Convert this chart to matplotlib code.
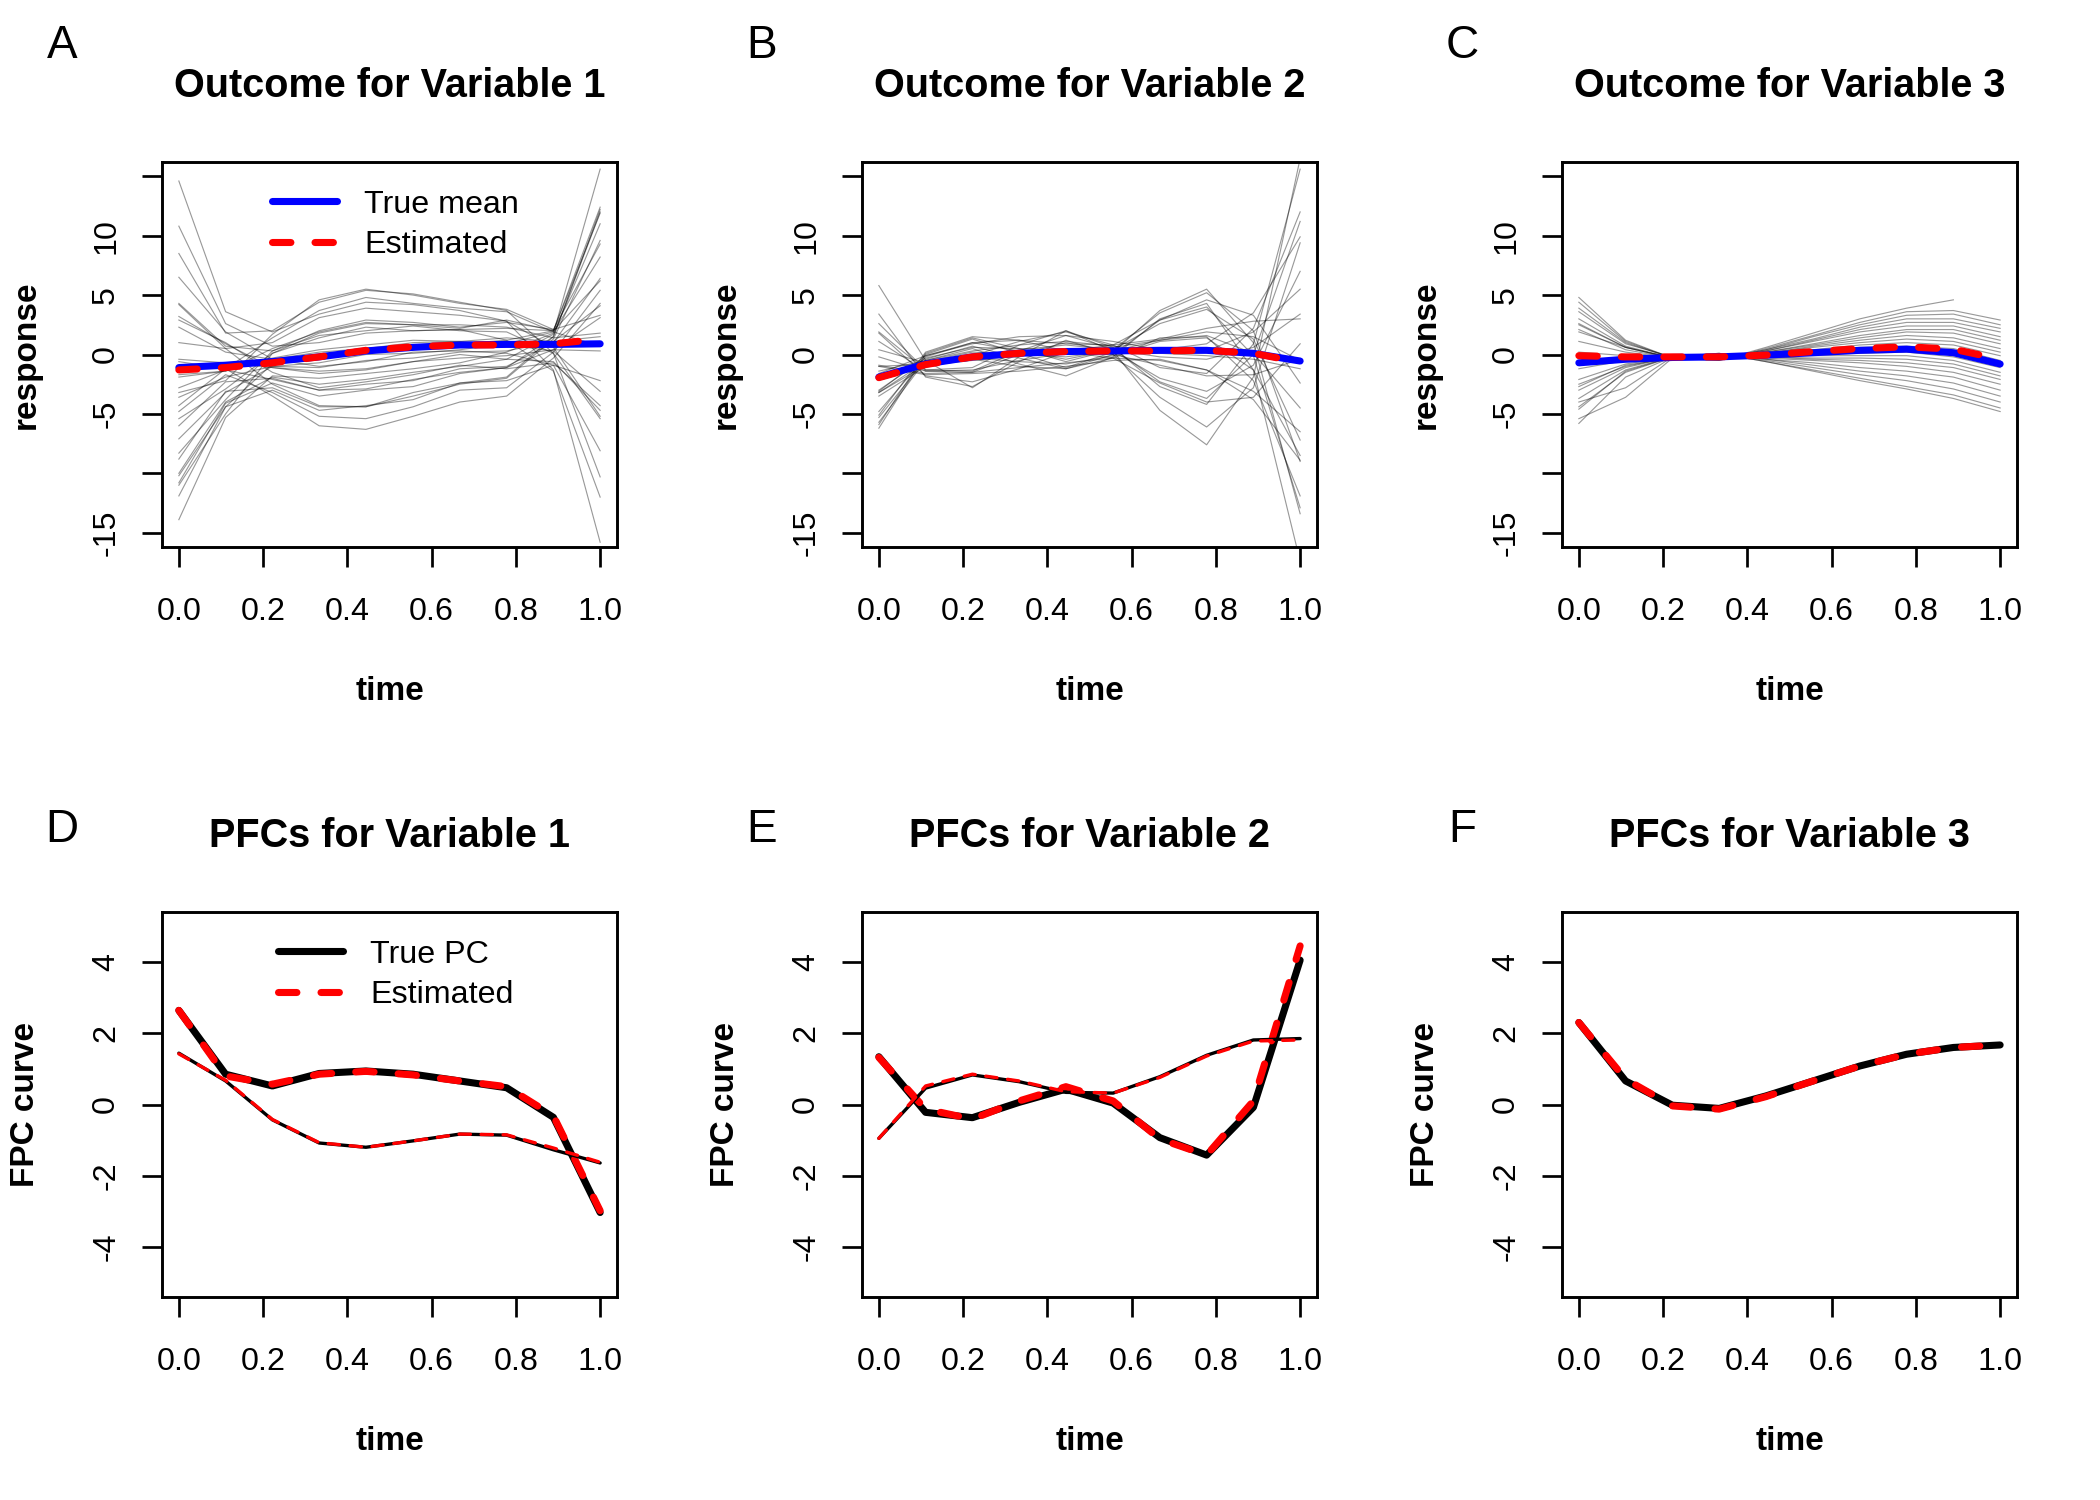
import numpy as np
import matplotlib.pyplot as plt
from matplotlib.lines import Line2D

plt.rcParams['font.family'] = ['Liberation Sans', 'DejaVu Sans']
plt.rcParams['axes.unicode_minus'] = False

# 10 observation times
time = [0.0, 0.111, 0.222, 0.333, 0.444, 0.556, 0.667, 0.778, 0.889, 1.0]

# ---- top row: observed curves + means ----
curves_1 = [
    [14.6, 3.6, 1.9, 3.4, 4.4, 4.2, 3.7, 2.8, -1.3, -15.8],
    [10.8, 2.6, 0.7, 1.0, 1.8, 2.0, 2.1, 1.2, -1.4, -12.0],
    [4.2, 0.5, 1.0, 3.1, 3.9, 3.6, 3.3, 2.8, 0.6, -5.2],
    [6.5, 1.9, -0.4, -1.0, -0.6, 0.2, 0.3, 0.1, -0.9, -8.1],
    [-0.6, -1.2, 1.4, 3.7, 4.8, 4.3, 3.9, 3.6, 1.9, 0.7],
    [2.3, 0.2, -0.4, 0.2, 0.5, 1.0, 1.1, 0.8, 0.3, -3.1],
    [-1.9, -1.4, 0.5, 1.9, 2.7, 2.5, 2.5, 2.3, 1.4, 1.8],
    [2.9, 1.0, -1.5, -2.8, -2.3, -1.7, -0.9, -1.2, -0.7, -4.3],
    [-1.7, -1.4, -0.3, 0.4, 0.8, 1.2, 1.1, 1.4, 1.1, 1.5],
    [-0.4, -0.7, -1.1, -1.6, -1.3, -0.6, -0.3, -0.1, 0.4, 0.3],
    [-5.4, -2.9, 0.1, 1.4, 2.3, 2.0, 2.1, 2.2, 2.0, 6.2],
    [-3.6, -1.9, -1.0, -1.1, -0.5, -0.3, 0.2, 0.3, 1.1, 4.1],
    [-8.3, -3.8, 0.3, 2.0, 2.9, 2.7, 2.3, 2.7, 2.1, 9.3],
    [-2.8, -1.3, -2.1, -3.0, -2.9, -2.1, -1.5, -1.1, 0.4, 3.1],
    [-7.1, -3.2, -1.0, -0.7, 0.0, 0.1, 0.4, 0.9, 1.9, 8.2],
    [-6.0, -2.3, -2.0, -3.0, -2.5, -2.2, -1.2, -1.0, 1.0, 6.4],
    [-10.2, -4.4, -0.8, -0.2, 0.5, 0.4, 0.9, 1.2, 2.0, 11.9],
    [-4.8, -1.7, -3.2, -5.2, -5.4, -4.4, -3.0, -2.8, 0.2, 5.4],
    [-10.0, -4.0, -1.9, -2.5, -2.1, -1.5, -1.0, -0.4, 1.7, 11.0],
    [-8.8, -3.1, -2.8, -4.4, -4.4, -3.5, -2.5, -2.0, 1.3, 9.6],
    [-13.9, -5.3, -1.8, -2.0, -1.6, -1.2, -0.7, 0.2, 1.8, 15.6],
    [-11.9, -4.4, -3.0, -4.7, -4.3, -3.8, -2.4, -1.9, 1.5, 12.2],
    [4.3, 0.7, 0.3, 1.6, 2.0, 2.4, 2.0, 1.9, 0.1, -5.4],
    [3.2, 0.9, -1.1, -1.4, -1.2, -0.6, 0.0, -0.4, -0.6, -4.7],
    [1.0, 0.5, -2.5, -4.3, -4.4, -3.2, -2.4, -2.2, -0.9, -2.2],
    [-11.0, -5.0, 0.1, 1.8, 2.6, 2.5, 2.2, 2.9, 2.0, 12.4],
    [8.5, 1.8, 2.0, 4.4, 5.4, 5.1, 4.4, 3.7, 0.1, -10.3],
    [-10.8, -4.1, -2.4, -3.5, -3.0, -2.7, -1.6, -1.1, 1.5, 12.0],
    [-3.2, -2.2, 1.7, 4.6, 5.5, 5.0, 4.3, 3.8, 2.1, 3.3],
    [-4.3, -1.2, -3.5, -6.0, -6.3, -5.2, -4.0, -3.5, -0.3, 4.3],
]
curves_2 = [
    [2.6, -1.3, -1.1, 0.8, 2.0, 0.6, -2.7, -4.2, 0.9, 15.6],
    [3.4, -1.9, -2.7, -0.6, 1.2, 0.0, -3.6, -6.1, -2.8, 9.4],
    [0.4, -0.7, -0.1, 1.1, 1.9, 0.8, -1.1, -1.6, 2.2, 12.0],
    [1.1, -1.4, -1.5, 0.0, 1.0, 0.3, -2.0, -3.1, -0.9, 7.0],
    [-1.6, -0.1, 0.9, 1.5, 1.6, 1.1, 0.4, 0.9, 3.5, 9.9],
    [1.8, -1.8, -2.3, -1.2, 0.2, -0.3, -2.4, -4.0, -3.6, 0.9],
    [-1.0, -0.8, -0.3, 0.4, 0.8, 0.4, -0.2, -0.4, 0.6, 3.4],
    [-0.2, -1.4, -1.3, -0.5, 0.1, 0.0, -0.9, -1.8, -1.7, -0.4],
    [-3.1, -0.1, 1.0, 1.2, 0.9, 0.8, 1.3, 2.2, 2.8, 3.0],
    [-1.7, -0.9, -0.5, -0.1, 0.2, 0.2, 0.1, -0.1, -0.4, -1.2],
    [-3.0, -0.3, 0.6, 0.5, 0.4, 0.6, 1.2, 1.9, 1.5, -0.5],
    [-0.9, -1.6, -1.5, -1.1, -0.7, -0.3, -0.5, -1.3, -3.1, -6.5],
    [-3.2, -0.6, 0.2, 0.0, -0.2, 0.3, 1.2, 1.6, 0.1, -4.5],
    [-5.1, 0.2, 1.5, 1.2, 0.3, 0.8, 2.9, 4.6, 3.3, -2.4],
    [-3.2, -0.9, -0.3, -0.6, -0.8, -0.1, 1.1, 1.4, -1.3, -8.5],
    [-4.8, -0.2, 1.0, 0.3, -0.4, 0.4, 2.6, 3.8, 1.3, -7.2],
    [-3.5, -1.0, -0.4, -1.0, -1.2, -0.3, 1.4, 1.5, -2.2, -11.9],
    [-5.9, 0.1, 1.4, 0.5, -0.6, 0.4, 3.5, 5.2, 2.0, -9.0],
    [-5.3, -0.4, 0.7, -0.3, -1.2, 0.0, 2.9, 4.0, -0.1, -12.9],
    [-6.2, 0.0, 1.3, 0.1, -1.1, 0.2, 3.7, 5.5, 1.0, -13.4],
    [-5.7, -0.5, 0.5, -0.8, -1.8, -0.2, 3.0, 4.3, -1.3, -17.4],
    [-1.4, -0.5, 0.3, 0.8, 1.1, 0.7, 0.2, 0.3, 1.9, 5.5],
    [-1.0, -1.7, -1.6, -1.4, -1.0, -0.5, -0.4, -1.3, -3.8, -8.9],
    [1.9, -1.3, -1.4, 0.3, 1.6, 0.5, -2.3, -3.7, 0.0, 11.2],
    [5.8, -0.5, -2.8, -0.2, 2.0, 0.3, -4.7, -7.6, -1.9, 16.5],
]
curves_3 = [
    [4.8, 1.2, -0.3, -0.5, 0.6, 1.8, 3.0, 3.9, 4.6, np.nan],
    [4.4, 1.1, -0.3, -0.5, 0.5, 1.6, 2.7, 3.6, 3.7, 2.9],
    [3.9, 1.0, -0.3, -0.4, 0.4, 1.5, 2.5, 3.3, 3.4, 2.5],
    [1.9, 0.6, -0.3, -0.4, 0.4, 1.3, 2.3, 3.0, 3.0, 2.2],
    [3.0, 0.7, -0.3, -0.4, 0.3, 1.2, 2.1, 2.7, 2.7, 1.9],
    [2.5, 0.6, -0.3, -0.4, 0.3, 1.1, 1.9, 2.4, 2.4, 1.5],
    [2.1, 0.4, -0.3, -0.3, 0.2, 0.9, 1.6, 2.1, 2.1, 1.2],
    [3.6, 0.9, -0.2, -0.3, 0.2, 0.8, 1.4, 1.9, 1.8, 0.9],
    [1.1, 0.2, -0.3, -0.3, 0.1, 0.7, 1.2, 1.6, 1.4, 0.5],
    [-2.7, -0.9, -0.3, -0.3, 0.1, 0.6, 1.0, 1.3, 1.1, 0.2],
    [0.2, -0.1, -0.3, -0.3, 0.0, 0.4, 0.8, 1.0, 0.8, -0.1],
    [2.6, 0.6, -0.3, -0.2, 0.0, 0.3, 0.6, 0.7, 0.5, -0.5],
    [-0.7, -0.4, -0.3, -0.2, -0.1, 0.2, 0.4, 0.5, 0.2, -0.8],
    [-1.2, -0.5, -0.2, -0.2, -0.1, 0.0, 0.1, 0.2, -0.2, -1.1],
    [-4.6, -1.4, -0.2, -0.2, -0.1, -0.1, -0.1, -0.1, -0.5, -1.5],
    [-2.1, -0.8, -0.2, -0.1, -0.2, -0.3, -0.3, -0.4, -0.8, -1.8],
    [-2.5, -1.0, -0.2, -0.1, -0.2, -0.4, -0.5, -0.7, -1.1, -2.1],
    [-3.0, -1.1, -0.2, -0.1, -0.3, -0.5, -0.7, -1.0, -1.5, -2.5],
    [-3.7, -1.3, -0.2, 0.0, -0.4, -0.7, -1.1, -1.4, -1.9, -3.0],
    [-4.4, -1.5, -0.2, 0.0, -0.4, -0.9, -1.4, -1.8, -2.4, -3.5],
    [-5.4, -3.6, -0.3, 0.0, -0.5, -1.1, -1.7, -2.2, -2.9, -4.0],
    [-5.8, -1.9, -0.2, 0.1, -0.6, -1.3, -2.0, -2.7, -3.4, -4.5],
    [-4.0, -2.8, -0.2, 0.1, -0.6, -1.4, -2.2, -2.9, -3.7, -4.8],
]

mean_true_1 = [-1.1, -0.9, -0.6, -0.2, 0.3, 0.6, 0.8, 0.85, 0.85, 0.9]
mean_est_1 = [-1.3, -1.1, -0.7, -0.2, 0.35, 0.65, 0.8, 0.8, 0.9, 1.3]
mean_true_2 = [-1.9, -0.8, -0.2, 0.1, 0.25, 0.3, 0.35, 0.35, 0.1, -0.55]
mean_est_2 = [-1.95, -0.85, -0.2, 0.1, 0.25, 0.3, 0.3, 0.35, 0.1, -0.65]
mean_true_3 = [-0.7, -0.4, -0.25, -0.2, -0.05, 0.15, 0.35, 0.45, 0.15, -0.8]
mean_est_3 = [-0.1, -0.2, -0.2, -0.2, -0.05, 0.25, 0.5, 0.65, 0.45, -0.4]

# ---- bottom row: principal functional components ----
pc_true_1 = [[2.64, 0.85, 0.52, 0.87, 0.94, 0.85, 0.66, 0.47, -0.36, -3.03],
             [1.44, 0.66, -0.43, -1.08, -1.2, -1.02, -0.83, -0.86, -1.27, -1.64]]
pc_est_1 = [[2.64, 0.8, 0.57, 0.85, 0.93, 0.83, 0.66, 0.5, -0.32, -2.98],
            [1.42, 0.68, -0.42, -1.07, -1.2, -1.02, -0.83, -0.85, -1.22, -1.62]]
pc_true_2 = [[1.34, -0.22, -0.37, 0.06, 0.43, 0.04, -0.93, -1.42, -0.08, 4.05],
             [-0.95, 0.46, 0.83, 0.64, 0.34, 0.32, 0.78, 1.38, 1.81, 1.85]]
pc_est_2 = [[1.32, -0.13, -0.41, 0.1, 0.5, 0.1, -0.97, -1.42, 0.1, 4.45],
            [-0.95, 0.52, 0.85, 0.66, 0.36, 0.32, 0.76, 1.36, 1.78, 1.81]]
pc_true_3 = [[2.3, 0.66, -0.02, -0.11, 0.24, 0.66, 1.08, 1.41, 1.6, 1.67]]
pc_est_3 = [[2.3, 0.71, -0.04, -0.13, 0.22, 0.66, 1.08, 1.41, 1.6, 1.67]]

letters = ['A', 'B', 'C', 'D', 'E', 'F']
top_titles = ['Outcome for Variable 1', 'Outcome for Variable 2', 'Outcome for Variable 3']
bot_titles = ['PFCs for Variable 1', 'PFCs for Variable 2', 'PFCs for Variable 3']

fig = plt.figure(figsize=(14, 10), dpi=150)

W, H = 2100.0, 1500.0
lefts = [162, 862, 1562]
box_w, box_h = 455, 385
box_tops = [162, 912]


def style(ax, yticks, ylabels, ylim, ylabel, title):
    ax.set_xlim(-0.04, 1.04)
    ax.set_ylim(ylim)
    ax.set_xticks([0, 0.2, 0.4, 0.6, 0.8, 1.0])
    ax.set_xticklabels(['0.0', '0.2', '0.4', '0.6', '0.8', '1.0'])
    ax.set_yticks(yticks)
    ax.set_yticklabels(ylabels, rotation=90, va='center')
    ax.tick_params(direction='out', length=9.6, width=1.3, labelsize=15.5)
    ax.tick_params(axis='x', pad=14.5)
    ax.tick_params(axis='y', pad=10)
    for s in ax.spines.values():
        s.set_linewidth(1.4)
    ax.set_xlabel('time', fontsize=16, fontweight='bold')
    ax.xaxis.set_label_coords(0.5, -145 / box_h)
    ax.xaxis.label.set_va('center')
    ax.set_ylabel(ylabel, fontsize=16, fontweight='bold')
    ax.yaxis.set_label_coords(-136 / box_w, 0.5)
    ax.yaxis.label.set_va('center')
    ax.set_title(title, fontsize=19, fontweight='bold', y=1 + 76 / box_h, va='center', pad=0)


thick = 3.4
thin = 1.6

# top row
top_curves = [curves_1, curves_2, curves_3]
top_true = [mean_true_1, mean_true_2, mean_true_3]
top_est = [mean_est_1, mean_est_2, mean_est_3]
for i in range(3):
    ax = fig.add_axes([lefts[i] / W, 1 - (box_tops[0] + box_h) / H, box_w / W, box_h / H])
    for c in top_curves[i]:
        ax.plot(time, c, color='black', lw=0.55, alpha=0.4)
    ax.plot(time, top_true[i], color='blue', lw=thick, solid_capstyle='round',
            solid_joinstyle='round', label='True mean')
    ax.plot(time, top_est[i], color='red', lw=thick, ls=(0, (2.6, 3.4)),
            dash_capstyle='round', dash_joinstyle='round', label='Estimated')
    style(ax, [-15, -10, -5, 0, 5, 10, 15], ['-15', '', '-5', '0', '5', '10', ''],
          (-16.2, 16.2), 'response', top_titles[i])
    if i == 0:
        ax.legend(loc='upper left', bbox_to_anchor=(0.242, 0.928), frameon=False,
                  fontsize=15.5, handlelength=2.0, handletextpad=0.85,
                  labelspacing=0.33, borderpad=0, borderaxespad=0)
    fig.text(62 / W + i * 700 / W, 1 - 46 / H, letters[i], fontsize=22,
             ha='center', va='center')

# bottom row
bot_true = [pc_true_1, pc_true_2, pc_true_3]
bot_est = [pc_est_1, pc_est_2, pc_est_3]
for i in range(3):
    ax = fig.add_axes([lefts[i] / W, 1 - (box_tops[1] + box_h) / H, box_w / W, box_h / H])
    for k in range(len(bot_true[i])):
        lw = thick if k == 0 else thin
        dash = (2.6, 3.4) if k == 0 else (3.4, 3.2)
        ax.plot(time, bot_true[i][k], color='black', lw=lw, solid_capstyle='round',
                solid_joinstyle='round')
        ax.plot(time, bot_est[i][k], color='red', lw=lw, ls=(0, dash),
                dash_capstyle='round', dash_joinstyle='round')
    style(ax, [-4, -2, 0, 2, 4], ['-4', '-2', '0', '2', '4'],
          (-5.4, 5.4), 'FPC curve', bot_titles[i])
    if i == 0:
        handles = [Line2D([], [], color='black', lw=thick, solid_capstyle='round'),
                   Line2D([], [], color='red', lw=thick, ls=(0, (2.6, 3.4)),
                          dash_capstyle='round')]
        ax.legend(handles, ['True PC', 'Estimated'], loc='upper left',
                  bbox_to_anchor=(0.255, 0.928), frameon=False, fontsize=15.5,
                  handlelength=2.0, handletextpad=0.85, labelspacing=0.33,
                  borderpad=0, borderaxespad=0)
    fig.text(62 / W + i * 700 / W, 1 - 830 / H, letters[3 + i], fontsize=22,
             ha='center', va='center')

fig.savefig('out.png', dpi=150)
